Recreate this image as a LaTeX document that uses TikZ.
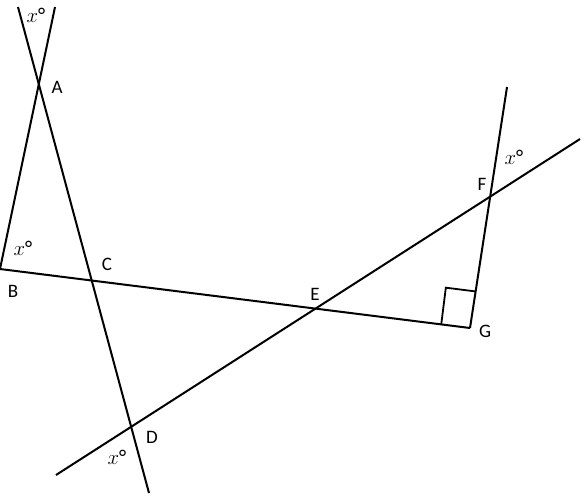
\documentclass[tikz,border=0pt]{standalone}
\usepackage{fontspec}
\setmainfont{Carlito}
\usetikzlibrary{calc}

\begin{document}
\begin{tikzpicture}[x=1pt,y=-1pt,line width=2pt,
  lbl/.style={font=\fontsize{19}{21}\selectfont},
  ang/.style={font=\fontsize{21}{22}\selectfont}]
\useasboundingbox (0,0) rectangle (585,501);
  \coordinate (B) at (0,269);
  \coordinate (G) at (470,328);
  \coordinate (T1) at (55,7);
  \coordinate (T2) at (18,7);
  \coordinate (U2) at (149,493);
  \coordinate (L4) at (56,475);
  \coordinate (R4) at (580,139);
  \coordinate (T5) at (507,87);

  \draw (B)--(T1);
  \draw (T2)--(U2);
  \draw (B)--(G);
  \draw (L4)--(R4);
  \draw (G)--(T5);

  % right angle at G
  \draw[line width=1.8pt] ($(G)!29pt!(B)$)--($(G)!29pt!(B)!37pt!90:(G)$)--($(G)!37pt!(T5)$);

  \node[lbl] (lA) at (57,87) {A};
  \node[lbl] (lB) at (13,291) {B};
  \node[lbl] (lC) at (107,264) {C};
  \node[lbl] (lD) at (152,437) {D};
  \node[lbl] (lE) at (315,294) {E};
  \node[lbl] (lF) at (482,184) {F};
  \node[lbl] (lG) at (485,331) {G};

  \node[ang] (x1) at (36,15) {$x$°};
  \node[ang] (x2) at (23,248) {$x$°};
  \node[ang] (x3) at (514,157) {$x$°};
  \node[ang] (x4) at (117,457) {$x$°};
\end{tikzpicture}
\end{document}
